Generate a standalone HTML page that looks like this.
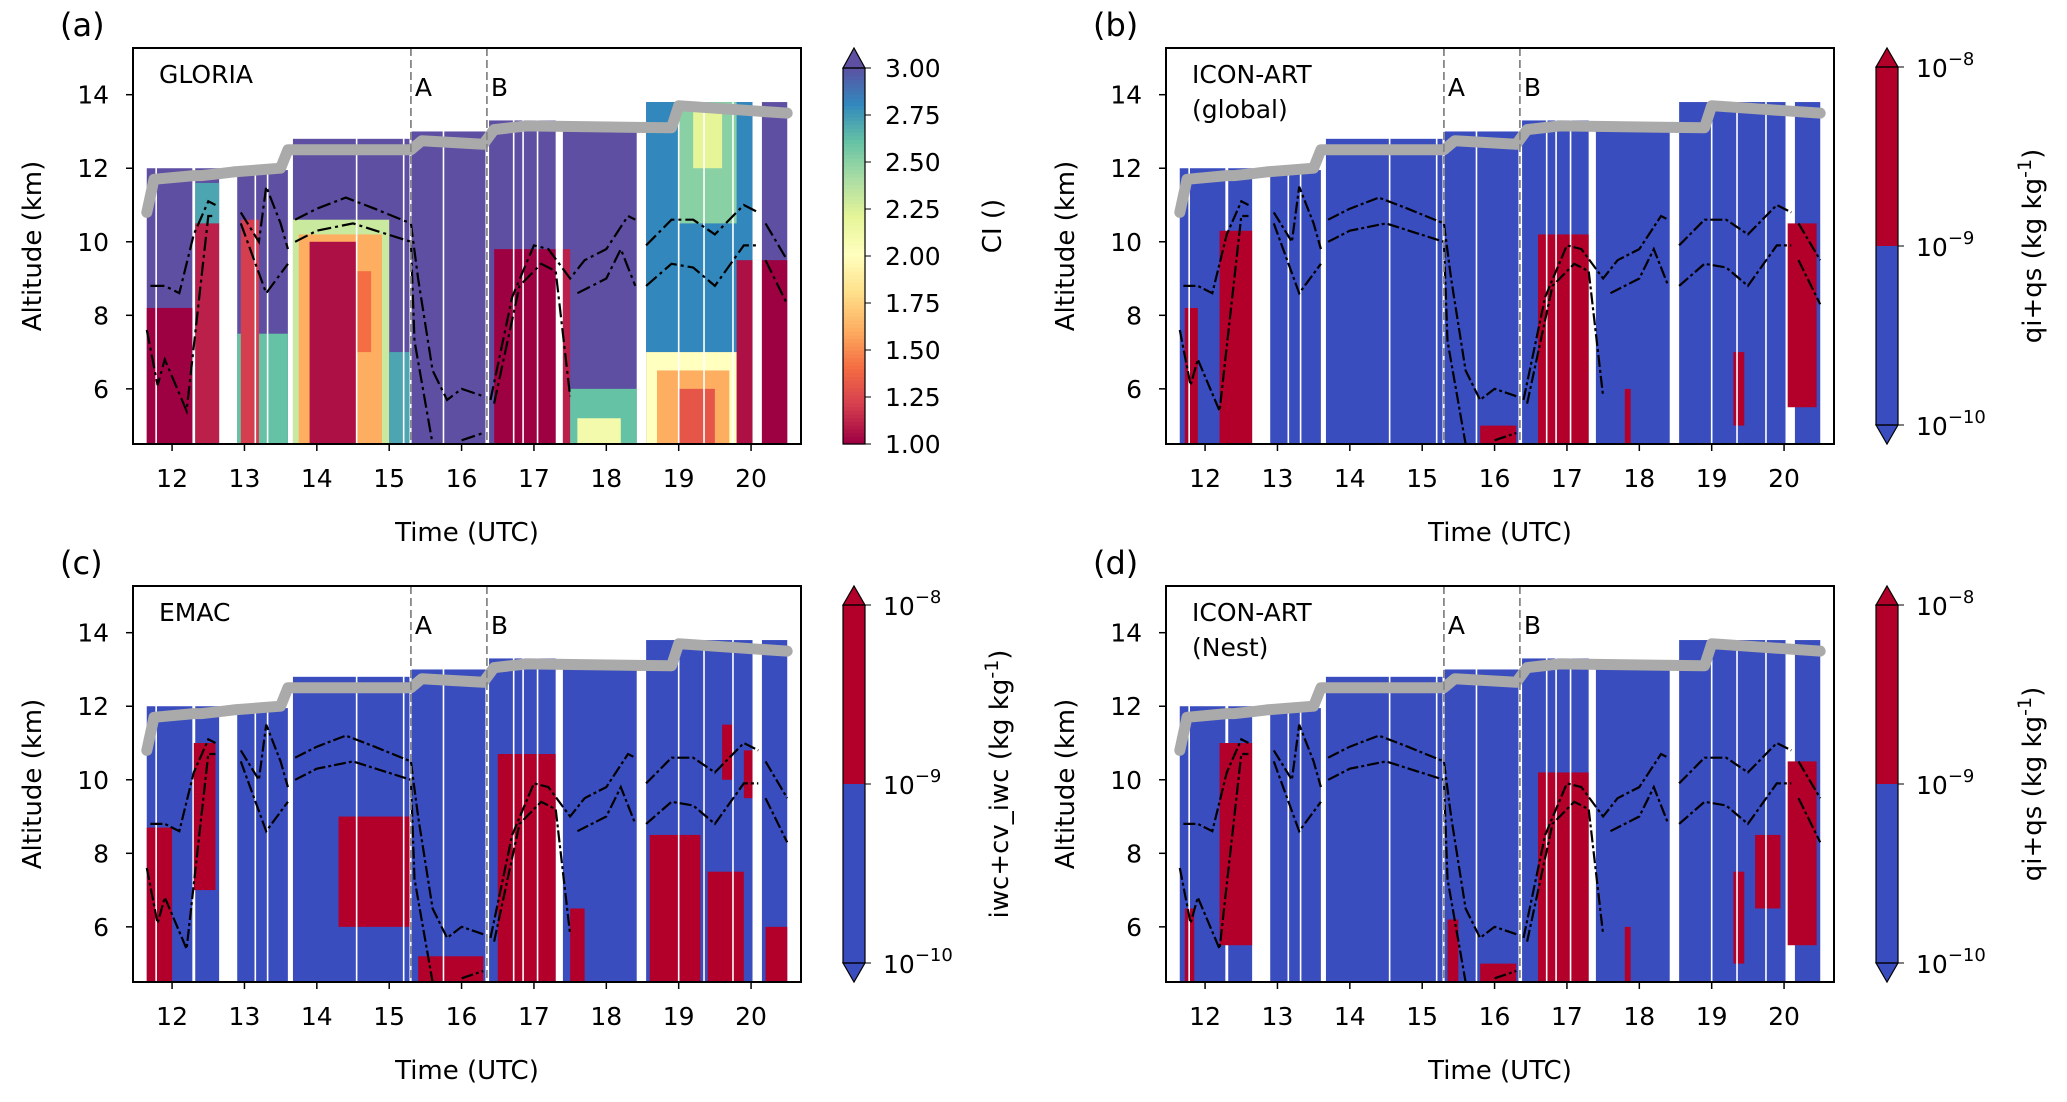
<!DOCTYPE html>
<html><head><meta charset="utf-8"><style>
body{margin:0;background:#fff}
svg{display:block;font-family:"DejaVu Sans","Liberation Sans",sans-serif}
</style></head><body>
<svg id="fig" width="2067" height="1102" viewBox="0 0 2067 1102" xmlns="http://www.w3.org/2000/svg"></svg>
<script>
// ---- data ----
const xTicks=[12,13,14,15,16,17,18,19,20];
const yTicks=[6,8,10,12,14];
const segments=[[11.65,12.28],[12.32,12.65],[12.9,13.6],[13.67,15.28],[15.31,16.33],[16.38,17.3],[17.4,18.42],[18.55,20.02],[20.15,20.5]];
const segmentTops=[12.0,12.0,11.95,12.8,13.0,13.3,13.2,13.8,13.8];
const thinGaps=[11.78,13.15,13.32,14.55,15.2,15.75,16.72,16.85,17.05,19.0,19.35,19.75];
const flightT=[11.65,11.75,12.3,12.4,12.65,12.85,13.5,13.6,15.3,15.45,16.3,16.45,16.9,18.9,19.0,20.1,20.5];
const flightZ=[10.8,11.7,11.8,11.8,11.85,11.9,12.0,12.5,12.5,12.75,12.65,13.05,13.15,13.1,13.7,13.55,13.5];
const upperT=[[11.7,11.9,12.1,12.3,12.5,12.6],[12.95,13.2,13.3,13.5,13.6],[13.7,14.0,14.4,14.8,15.3,15.4,15.6,15.8,16.0,16.3],[16.4,16.7,17.0,17.2,17.5,17.7,18.0,18.3,18.4],[18.55,18.9,19.2,19.5,19.9,20.1],[20.2,20.5]];
const upperZ=[[8.8,8.8,8.6,10.2,11.1,11.0],[10.8,10.0,11.5,10.5,9.8],[10.6,10.9,11.2,10.9,10.5,9.0,6.5,5.7,6.0,5.8],[5.7,8.5,9.9,9.8,9.0,9.5,9.8,10.7,10.6],[9.9,10.6,10.6,10.2,11.0,10.8],[10.5,9.5]];
const lowerT=[[11.65,11.8,11.9,12.2,12.5,12.6],[12.95,13.3,13.6],[13.7,14.0,14.5,15.3,15.35,15.6],[16.0,16.3],[16.45,16.8,17.1,17.3,17.5],[17.6,17.8,18.0,18.2,18.4],[18.55,18.9,19.2,19.5,19.9,20.1],[20.2,20.5]];
const lowerZ=[[7.6,6.1,6.8,5.4,10.7,10.7],[10.5,8.6,9.4],[10.0,10.3,10.5,10.0,7.3,4.5],[4.6,4.8],[5.6,8.8,9.4,9.2,5.8],[8.6,8.8,9.0,9.8,8.8],[8.8,9.4,9.3,8.8,9.9,9.9],[9.5,8.3]];
// GLORIA CI patches [t0,t1,z0,z1,CI]
const gloriaPatches=[[11.65,12.28,4.5,8.2,1.0],[12.32,12.65,10.3,11.6,2.7],[12.32,12.65,4.5,10.5,1.1],[12.9,13.6,4.5,7.5,2.6],[12.95,13.2,4.5,10.6,1.2],[13.67,15.0,4.5,10.6,2.3],[13.75,14.9,4.5,10.2,1.6],[13.9,14.55,4.5,10.0,1.05],[14.55,14.75,7.0,9.2,1.4],[15.0,15.28,4.5,7.0,2.7],[16.45,17.3,4.5,9.8,1.0],[17.4,17.5,4.5,9.8,1.1],[17.5,18.42,4.5,6.0,2.6],[17.6,18.2,4.5,5.2,2.1],[18.55,20.02,7.0,13.8,2.8],[19.0,19.8,10.5,13.8,2.5],[19.2,19.6,12.0,13.6,2.2],[18.55,19.9,4.5,7.0,2.0],[18.7,19.7,4.5,6.5,1.6],[19.0,19.5,4.5,6.0,1.3],[19.8,20.02,4.5,9.5,1.05],[20.15,20.5,4.5,9.5,1.0]];
// model cloud patches (red) [t0,t1,z0,z1]
const redB=[[11.72,11.9,4.5,8.2],[12.2,12.65,4.5,10.3],[15.8,16.3,4.5,5.0],[16.6,17.3,4.5,10.2],[17.8,17.88,4.5,6.0],[19.3,19.45,5.0,7.0],[20.05,20.45,5.5,10.5]];
const redC=[[11.65,12.0,4.5,8.7],[12.3,12.6,7.0,11.0],[14.3,15.28,6.0,9.0],[15.4,16.3,4.5,5.2],[16.5,17.3,4.5,10.7],[17.5,17.7,4.5,6.5],[18.6,19.3,4.5,8.5],[19.4,19.9,4.5,7.5],[19.6,19.75,10.0,11.5],[19.9,20.02,9.5,10.8],[20.2,20.5,4.5,6.0]];
const redD=[[11.72,11.85,4.5,6.5],[12.2,12.65,5.5,11.0],[15.35,15.5,4.5,6.2],[15.8,16.3,4.5,5.0],[16.6,17.3,4.5,10.2],[17.8,17.88,4.5,6.0],[19.3,19.45,5.0,7.5],[19.6,19.95,6.5,8.5],[20.05,20.45,5.5,10.5]];
const ciTicks=[1.0,1.25,1.5,1.75,2.0,2.25,2.5,2.75,3.0];

// ---- helpers ----
const NS="http://www.w3.org/2000/svg";
const svg=document.getElementById('fig');
function mk(tag,attrs,parent){const e=document.createElementNS(NS,tag);for(const k in attrs)e.setAttribute(k,attrs[k]);(parent||svg).appendChild(e);return e;}
const W=668,H=396,X0=11.46,X1=20.69,Y0=4.5,Y1=15.27;
const stops=[[1.0,[158,1,66]],[1.2,[213,62,79]],[1.4,[244,109,67]],[1.6,[253,174,97]],[1.8,[254,224,139]],[2.0,[255,255,191]],[2.2,[230,245,152]],[2.4,[171,221,164]],[2.6,[102,194,165]],[2.8,[50,136,189]],[3.0,[94,79,162]]];
function ciColor(v){for(let i=1;i<stops.length;i++){if(v<=stops[i][0]){const a=stops[i-1],b=stops[i];const f=(v-a[0])/(b[0]-a[0]);const c=a[1].map((x,j)=>Math.round(x+(b[1][j]-x)*f));return `rgb(${c})`;}}return 'rgb(94,79,162)';}

function panel(ox,oy,letter,title,kind,reds){
  const sx=t=>ox+(t-X0)/(X1-X0)*W, sy=z=>oy+H-(z-Y0)/(Y1-Y0)*H;
  const g=mk('g',{});
  
  
  const base=kind==='ci'?ciColor(3.0):'#3a4dbf';
  segments.forEach((s,i)=>{
    const r=mk('rect',{x:sx(s[0]),y:sy(segmentTops[i]),width:sx(s[1])-sx(s[0]),height:sy(Y0)-sy(segmentTops[i]),fill:base},g);
    
    
  });
  if(kind==='ci'){
    gloriaPatches.forEach(p=>{
      const r=mk('rect',{x:sx(p[0]),y:sy(p[3]),width:sx(p[1])-sx(p[0]),height:sy(p[2])-sy(p[3]),fill:ciColor(p[4])},g);
      
      
    });
  } else {
    reds.forEach(p=>{
      const r=mk('rect',{x:sx(p[0]),y:sy(p[3]),width:sx(p[1])-sx(p[0]),height:sy(p[2])-sy(p[3]),fill:'#b2002a'},g);
      
      
    });
  }
  thinGaps.forEach(t=>{mk('line',{x1:sx(t),x2:sx(t),y1:sy(14),y2:sy(Y0),stroke:'#fff','stroke-width':1.6},g);});
  [[upperT,upperZ],[lowerT,lowerZ]].forEach(([TT,ZZ])=>{
    TT.forEach((ts,k)=>{
      const d=ts.map((t,j)=>(j?'L':'M')+sx(t).toFixed(1)+','+sy(ZZ[k][j]).toFixed(1)).join(' ');
      const p=mk('path',{d:d,fill:'none',stroke:'#000','stroke-width':2.2,'stroke-dasharray':kind==='ci'?'14,4,3,4':'12,3,3,3'},g);
      
      
    });
  });
  const fd=flightT.map((t,j)=>(j?'L':'M')+sx(t).toFixed(1)+','+sy(flightZ[j]).toFixed(1)).join(' ');
  const fp=mk('path',{d:fd,fill:'none',stroke:'#aaaaaa','stroke-width':11,'stroke-linejoin':'round','stroke-linecap':'round'},g);
  
  
  [[15.3,'A'],[16.35,'B']].forEach(([t,l])=>{
    mk('line',{x1:sx(t),x2:sx(t),y1:oy,y2:oy+H,stroke:'#888','stroke-width':1.8,'stroke-dasharray':'8,4'},g);
    const tx=mk('text',{x:sx(t)+4,y:oy+48,'font-size':25},g);tx.textContent=l;
    
    
  });
  mk('rect',{x:ox,y:oy,width:W,height:H,fill:'none',stroke:'#000','stroke-width':2},g);
  xTicks.forEach(t=>{
    mk('line',{x1:sx(t),x2:sx(t),y1:oy+H,y2:oy+H+7,stroke:'#000','stroke-width':1.5},g);
    const tx=mk('text',{x:sx(t),y:oy+H+43,'font-size':25,'text-anchor':'middle'},g);tx.textContent=t;
    
    
  });
  yTicks.forEach(z=>{
    mk('line',{x1:ox-7,x2:ox,y1:sy(z),y2:sy(z),stroke:'#000','stroke-width':1.5},g);
    const tx=mk('text',{x:ox-24,y:sy(z)+9,'font-size':25,'text-anchor':'end'},g);tx.textContent=z;
    
    
  });
  const xl=mk('text',{x:ox+W/2,y:oy+H+97,'font-size':26,'text-anchor':'middle'},g);xl.textContent='Time (UTC)';
  
  
  const yl=mk('text',{x:0,y:0,'font-size':26,'text-anchor':'middle',transform:`translate(${ox-92},${oy+H/2}) rotate(-90)`},g);yl.textContent='Altitude (km)';
  
  
  const pl=mk('text',{x:ox-73,y:oy-12,'font-size':32},g);pl.textContent='('+letter+')';
  
  
  title.forEach((s,i)=>{const tt=mk('text',{x:ox+26,y:oy+35+i*35,'font-size':25},g);tt.textContent=s;
    
    });
  const cx=ox+710,cw=22;
  if(kind==='ci'){
    const top=oy+20,bot=oy+H;
    for(let i=0;i<100;i++){const v=1+2*i/100;mk('rect',{x:cx,y:bot-(i+1)*(bot-top)/100,width:cw,height:(bot-top)/100+0.6,fill:ciColor(v)},g);}
    mk('path',{d:`M${cx},${top} L${cx+cw/2},${oy} L${cx+cw},${top}Z`,fill:ciColor(3.0),stroke:'#000','stroke-width':1.2},g);
    mk('rect',{x:cx,y:top,width:cw,height:bot-top,fill:'none',stroke:'#000','stroke-width':1.2},g);
    ciTicks.forEach(v=>{const y=bot-(v-1)/2*(bot-top);mk('line',{x1:cx+cw,x2:cx+cw+6,y1:y,y2:y,stroke:'#000'},g);
      const tx=mk('text',{x:cx+cw+20,y:y+9,'font-size':25},g);tx.textContent=v.toFixed(2);
      
      });
    const cl=mk('text',{x:0,y:0,'font-size':26,'text-anchor':'middle',transform:`translate(${cx+158},${oy+H/2-20}) rotate(-90)`},g);cl.textContent='CI ()';
    
    
  } else {
    const top=oy+19,bot=oy+H-19,mid=(top+bot)/2;
    mk('rect',{x:cx,y:top,width:cw,height:mid-top,fill:'#b2002a'},g);
    mk('rect',{x:cx,y:mid,width:cw,height:bot-mid,fill:'#3a4dbf'},g);
    mk('path',{d:`M${cx},${top} L${cx+cw/2},${oy} L${cx+cw},${top}Z`,fill:'#b2002a',stroke:'#000','stroke-width':1.2},g);
    mk('path',{d:`M${cx},${bot} L${cx+cw/2},${oy+H} L${cx+cw},${bot}Z`,fill:'#3a4dbf',stroke:'#000','stroke-width':1.2},g);
    mk('rect',{x:cx,y:top,width:cw,height:bot-top,fill:'none',stroke:'#000','stroke-width':1.2},g);
    [[top,'−8'],[mid,'−9'],[bot,'−10']].forEach(([y,e])=>{
      mk('line',{x1:cx+cw,x2:cx+cw+6,y1:y,y2:y,stroke:'#000'},g);
      const tx=mk('text',{x:cx+cw+18,y:y+10,'font-size':25},g);
      
      
      tx.appendChild(document.createTextNode('10'));
      const sp=mk('tspan',{dy:-12,'font-size':18},tx);sp.textContent=e;
    });
    const lab=kind==='emac'?'iwc+cv_iwc (kg kg':'qi+qs (kg kg';
    const cl=mk('text',{x:0,y:0,'font-size':26,'text-anchor':'middle',transform:`translate(${cx+165},${oy+H/2}) rotate(-90)`},g);
    
    
    cl.appendChild(document.createTextNode(lab));
    const s1=mk('tspan',{dy:-10,'font-size':19},cl);s1.textContent='-1';
    const s2=mk('tspan',{dy:10},cl);s2.textContent=')';
  }
}
panel(133,48,'a',['GLORIA'],'ci',null);
panel(1166,48,'b',['ICON-ART','(global)'],'qi',redB);
panel(133,586,'c',['EMAC'],'emac',redC);
panel(1166,586,'d',['ICON-ART','(Nest)'],'qi',redD);
</script>
</body></html>
